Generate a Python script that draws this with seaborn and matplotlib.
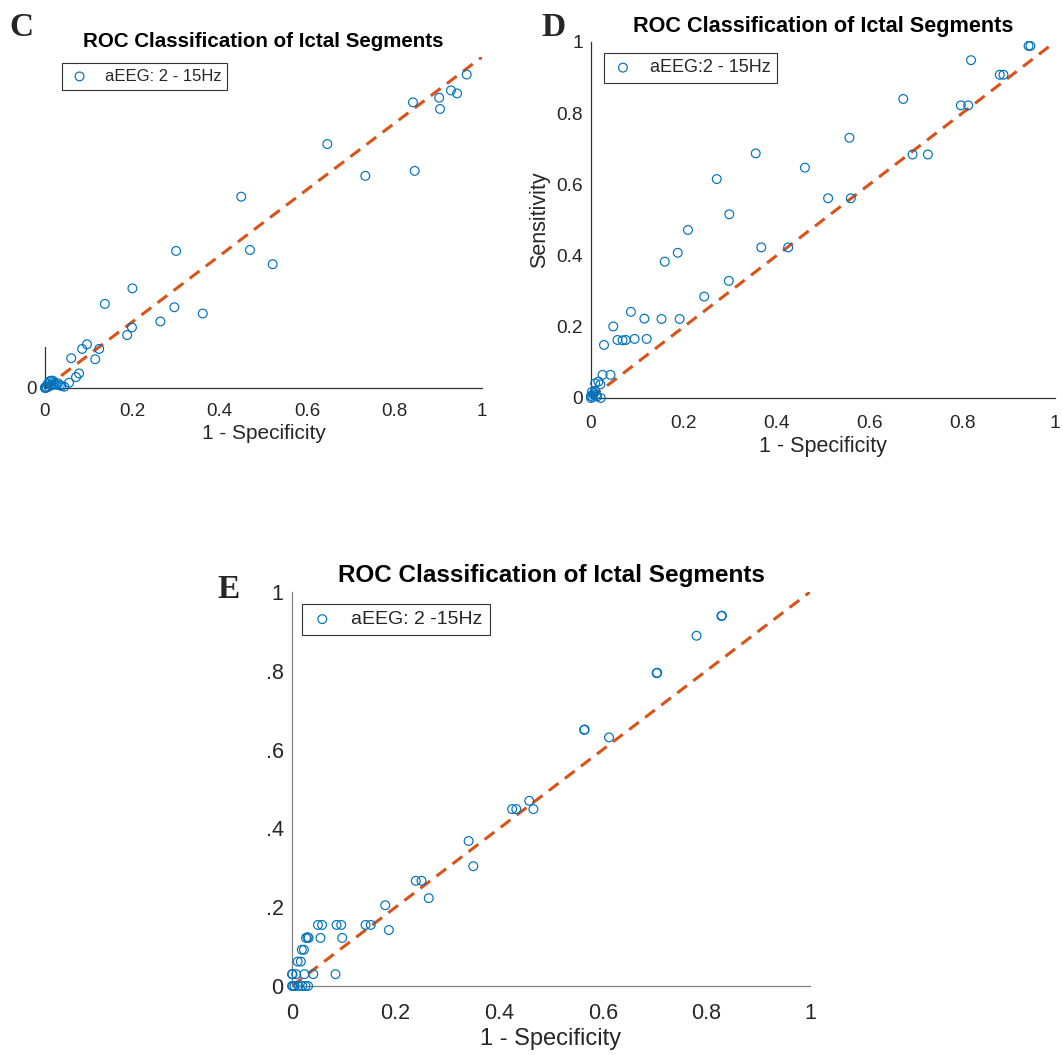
import matplotlib
matplotlib.use('Agg')
import matplotlib.pyplot as plt
import seaborn as sns

# panel C: aEEG 2 - 15Hz
c_fpr = [0.965, 0.929, 0.943, 0.902, 0.904, 0.842, 0.646, 0.733, 0.846, 0.449,
         0.300, 0.469, 0.521, 0.200, 0.137, 0.296, 0.361, 0.264, 0.199, 0.188,
         0.096, 0.085, 0.124, 0.060, 0.115, 0.078, 0.071, 0.055, 0.038,
         0.000, 0.000, 0.002, 0.004, 0.008, 0.010, 0.014, 0.018, 0.022, 0.026,
         0.030, 0.034, 0.015, 0.006, 0.020, 0.044]
c_tpr = [0.947, 0.899, 0.890, 0.877, 0.843, 0.863, 0.737, 0.641, 0.656, 0.578,
         0.414, 0.417, 0.374, 0.301, 0.254, 0.244, 0.225, 0.201, 0.183, 0.160,
         0.132, 0.118, 0.118, 0.090, 0.087, 0.044, 0.033, 0.016, 0.006,
         0.000, 0.002, 0.000, 0.002, 0.004, 0.020, 0.022, 0.022, 0.012, 0.010,
         0.014, 0.008, 0.008, 0.012, 0.016, 0.004]

# panel D
d_fpr = [0.943, 0.947, 0.819, 0.881, 0.889, 0.673, 0.797, 0.813, 0.557, 0.355,
         0.693, 0.726, 0.461, 0.271, 0.511, 0.560, 0.298, 0.209, 0.367, 0.425,
         0.187, 0.159, 0.297, 0.244, 0.086, 0.115, 0.152, 0.191, 0.048, 0.028,
         0.057, 0.068, 0.075, 0.094, 0.120, 0.025, 0.042, 0.016, 0.009, 0.020,
         0.000, 0.000, 0.003, 0.005, 0.007, 0.002, 0.009, 0.011, 0.013, 0.021]
d_tpr = [0.989, 0.989, 0.949, 0.908, 0.908, 0.840, 0.822, 0.822, 0.731, 0.687,
         0.684, 0.684, 0.647, 0.615, 0.561, 0.561, 0.516, 0.472, 0.423, 0.423,
         0.408, 0.383, 0.329, 0.285, 0.242, 0.223, 0.222, 0.222, 0.201, 0.149,
         0.163, 0.162, 0.163, 0.166, 0.166, 0.065, 0.065, 0.046, 0.041, 0.038,
         0.000, 0.006, 0.003, 0.010, 0.014, 0.017, 0.020, 0.008, 0.004, 0.000]

# panel E
e_fpr = [0.829, 0.830, 0.781, 0.704, 0.705, 0.564, 0.565, 0.612, 0.458, 0.425,
         0.433, 0.466, 0.341, 0.350, 0.239, 0.250, 0.264, 0.180, 0.187, 0.142,
         0.152, 0.086, 0.095, 0.050, 0.058, 0.055, 0.097, 0.027, 0.032, 0.030,
         0.019, 0.023, 0.011, 0.017, 0.000, 0.001, 0.008, 0.024, 0.041, 0.084,
         0.000, 0.002, 0.005, 0.012, 0.020, 0.026, 0.031]
e_tpr = [0.939, 0.940, 0.889, 0.794, 0.795, 0.650, 0.651, 0.631, 0.470, 0.449,
         0.449, 0.449, 0.368, 0.304, 0.267, 0.267, 0.223, 0.205, 0.142, 0.155,
         0.155, 0.155, 0.155, 0.155, 0.155, 0.122, 0.122, 0.122, 0.122, 0.124,
         0.092, 0.092, 0.062, 0.062, 0.030, 0.030, 0.030, 0.030, 0.030, 0.030,
         0.000, 0.000, 0.000, 0.000, 0.000, 0.000, 0.000]

diag = [0, 1]
tick_vals = [0, 0.2, 0.4, 0.6, 0.8, 1]
x_labels = ['0', '0.2', '0.4', '0.6', '0.8', '1']
d_ylabels = ['0', '0.2', '0.4', '0.6', '0.8', '1']
e_ylabels = ['0', '.2', '.4', '.6', '.8', '1']

sns.set_style('white')
plt.rcParams['font.family'] = ['Liberation Sans', 'DejaVu Sans']

blue = '#0072BD'
orange = '#D95319'
txt = '#262626'

fig = plt.figure(figsize=(10.63, 10.55), dpi=100)


def roc_panel(ax, fpr, tpr, leg_text, leg_anchor, title_size, tick_size,
              label_size, leg_size, spine_col, xpad):
    sns.scatterplot(x=fpr, y=tpr, ax=ax, marker='o', s=40, facecolor='none',
                    edgecolor=blue, linewidth=0.85, label=leg_text, clip_on=False,
                    zorder=3)
    sns.lineplot(x=diag, y=diag, ax=ax, color=orange, linewidth=2.2)
    ax.lines[-1].set_linestyle((0, (4, 2.6)))
    ax.set_xlim(0, 1)
    ax.set_ylim(0, 1)
    ax.set_xticks(tick_vals)
    ax.set_xticklabels(x_labels)
    ax.set_title('ROC Classification of Ictal Segments', fontsize=title_size,
                 fontweight='bold', color='black', pad=7)
    ax.set_xlabel('1 - Specificity', fontsize=label_size, color=txt, labelpad=3)
    ax.tick_params(direction='in', length=4, width=0.8, color=spine_col,
                   labelcolor=txt, labelsize=tick_size, pad=6)
    ax.tick_params(axis='x', pad=xpad)
    for s in ['top', 'right']:
        ax.spines[s].set_visible(False)
    for s in ['left', 'bottom']:
        ax.spines[s].set_color(spine_col)
        ax.spines[s].set_linewidth(0.9)
    # only the scatter goes in the legend
    handles, labels = ax.get_legend_handles_labels()
    leg = ax.legend(handles[:1], labels[:1], loc='upper left',
                    bbox_to_anchor=leg_anchor, borderaxespad=0, fontsize=leg_size,
                    frameon=True, fancybox=False, framealpha=1, edgecolor='#333333',
                    handlelength=1.4, handletextpad=0.8, borderpad=0.35)
    leg.get_frame().set_linewidth(0.8)
    for t in leg.get_texts():
        t.set_color(txt)


# C
ax_c = fig.add_axes([45 / 1063, 1 - 388 / 1055, 437 / 1063, 331 / 1055])
roc_panel(ax_c, c_fpr, c_tpr, 'aEEG: 2 - 15Hz', (0.039, 0.982), 14.8, 13.5, 15, 12,
          '#333333', 10.5)
ax_c.set_yticks([0])
ax_c.set_yticklabels(['0'])
ax_c.spines['left'].set_bounds(0, 0.124)

# D
ax_d = fig.add_axes([591 / 1063, 1 - 398 / 1055, 464 / 1063, 356 / 1055])
roc_panel(ax_d, d_fpr, d_tpr, 'aEEG:2 - 15Hz', (0.028, 0.969), 15.6, 13.8, 15.5, 13,
          '#333333', 12)
ax_d.set_yticks(tick_vals)
ax_d.set_yticklabels(d_ylabels)
ax_d.set_ylabel('Sensitivity', fontsize=15.5, color=txt, labelpad=4)

# E
ax_e = fig.add_axes([292 / 1063, 1 - 986 / 1055, 518 / 1063, 394 / 1055])
roc_panel(ax_e, e_fpr, e_tpr, 'aEEG: 2 -15Hz', (0.019, 0.970), 17.5, 15.5, 17, 14,
          '#808080', 12)
ax_e.set_yticks(tick_vals)
ax_e.set_yticklabels(e_ylabels)

# panel letters
for lx, ly, letter in [(9, 36, 'C'), (541, 36, 'D'), (217, 598, 'E')]:
    fig.text(lx / 1063, 1 - ly / 1055, letter, fontsize=24, fontweight='bold',
             family=['Liberation Serif', 'DejaVu Serif'], va='baseline', ha='left')

plt.savefig('out.png', dpi=100)
